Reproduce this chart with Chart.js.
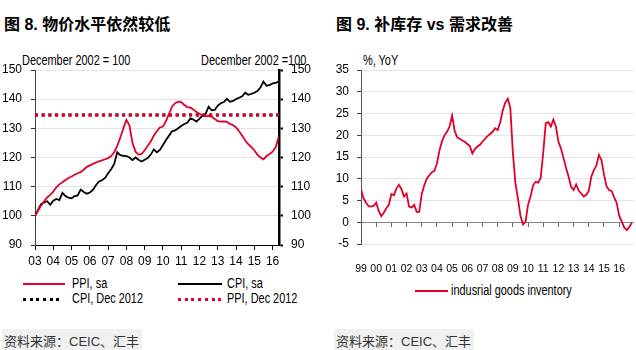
<!DOCTYPE html>
<html>
<head>
<meta charset="utf-8">
<script src="https://cdn.jsdelivr.net/npm/chart.js@4.4.1/dist/chart.umd.min.js"></script>
<style>
  body { margin: 0; width: 636px; height: 350px; background: #fff; position: relative; overflow: hidden;
         font-family: 'Liberation Sans', Arial, sans-serif; color: #000; }
  .t { position: absolute; white-space: nowrap; line-height: 1; }
  .narrow { transform: scaleX(0.78); transform-origin: 0 50%; font-size: 14px; }
  .title { font: bold 16px 'Liberation Sans', 'Noto Sans CJK SC', sans-serif; top: 11px; }
  .note { top: 53px; }
  .src { font: 13px 'Liberation Sans', 'Noto Sans CJK SC', sans-serif; color: #333; background: #f0f0f0; top: 329px; padding: 2px 3px 2px 2px; }
  .ln { position: absolute; height: 2px; }
  .dot { position: absolute; height: 3px; }
  .box { position: absolute; top: 0; width: 318px; height: 275px; }
</style>
</head>
<body>
<div class="t title" style="left:4px">图 8. 物价水平依然较低</div>
<div class="t title" style="left:336px">图 9. 补库存 vs 需求改善</div>

<div class="t note narrow" style="left:22px">December 2002 = 100</div>
<div class="t note narrow" style="left:201px">December 2002 =100</div>
<div class="t note narrow" style="left:363px">%, YoY</div>

<div class="box" style="left:0"><canvas id="left"></canvas></div>
<div class="box" style="left:318px"><canvas id="right"></canvas></div>

<div id="legendLeft"></div>
<div id="legendRight"></div>

<div class="t src" style="left:2px">资料来源：CEIC、汇丰</div>
<div class="t src" style="left:334px">资料来源：CEIC、汇丰</div>

<script>
const RED = '#e2002b';
const FAMILY = "'Liberation Sans', Arial, sans-serif";
const TICK_FONT = { family: FAMILY, size: 12 };
const SMALL_FONT = { family: FAMILY, size: 10.5 };

// fig 8: price index, Dec 2002 = 100, every two months from Jan 2003
const ppi = [
  100, 101.8, 103.5, 105, 106.3, 107.2,
  108.3, 109.8, 110.8, 111.5, 112.3, 113.0,
  113.5, 114.1, 114.6, 115.0, 115.8, 116.8,
  117.3, 117.8, 118.3, 118.7, 119.0, 119.4,
  119.8, 120.5, 121.8, 124.0, 126.8, 130.0,
  132.9, 131.0, 125.0, 122.0, 121.0, 121.2,
  122.5, 124.0, 125.5, 127.5, 129.0, 130.3,
  130.6, 132.5, 135.0, 137.5, 138.6, 139.1,
  139.0, 138.0, 137.3, 137.1, 136.5, 135.6,
  135.0, 134.4, 134.2, 134.3, 134.0, 133.2,
  132.5, 132.3, 132.4, 132.2, 131.5, 131.1,
  130.3, 129.0, 127.5, 125.8, 124.6, 123.6,
  122.5, 121.0, 120.0, 119.4, 120.5, 121.2,
  122.0, 123.5, 127.1
];
const cpi = [
  100, 102.0, 104.0, 104.6, 105.0, 103.8,
  105.2, 105.8, 105.4, 107.9, 106.8, 106.2,
  106.0, 106.8, 107.0, 109.0, 108.2, 107.6,
  108.0, 108.9, 110.5, 111.8, 112.2, 113.0,
  114.6, 116.0, 117.8, 121.8, 120.8, 120.6,
  120.5, 120.0, 119.1, 120.0, 119.2, 118.6,
  119.2, 119.8, 121.0, 122.8, 121.8, 122.6,
  124.3, 126.0, 127.5, 129.0, 129.3, 130.0,
  130.8, 131.5, 131.9, 133.4, 133.0, 132.3,
  133.3, 134.4, 135.0, 137.4, 136.2, 136.3,
  137.8, 138.6, 139.0, 140.1, 139.1, 139.4,
  140.0, 140.5, 141.0, 142.2, 141.5, 141.8,
  142.2, 142.8, 144.0, 146.0, 144.6, 144.8,
  145.4, 145.6, 146.0
];
const cpiDec2012 = 134.6;
const ppiDec2012 = 134.6;
const leftDates = ppi.map((_, i) => 2003 + i / 6);
const leftRange = [2003, 2016.35];

// fig 9: industrial goods inventory, % yoy, every two months from Jan 1999
const inventory = [
  7.6, 5.5, 4.5, 3.7, 3.6, 3.8,
  4.5, 2.6, 1.4, 2.2, 3.2, 4.0,
  6.5, 6.2, 7.8, 8.6, 7.6, 5.9,
  6.6, 3.6, 3.4, 4.0, 2.4, 2.4,
  6.5, 8.5, 10.0, 10.8, 11.5, 11.8,
  13.5, 16.5, 18.6, 20.0, 20.8, 22.0,
  24.5, 21.0, 19.5, 19.2, 18.8, 18.5,
  18.0, 17.5, 15.8, 16.8, 17.4, 17.8,
  18.5, 19.2, 19.8, 20.3, 20.8, 21.6,
  21.2, 23.0, 25.7, 27.5, 28.4, 26.3,
  16.0, 9.0, 5.5, 1.5, -0.5, 0.1,
  4.0, 6.0, 8.5, 9.3, 9.1, 10.2,
  16.0, 22.8, 23.0, 22.0, 23.6, 22.0,
  18.5, 17.0, 14.8, 12.5, 10.5, 8.2,
  7.4, 8.7, 7.3, 6.6, 5.9, 6.3,
  7.2, 10.5, 12.0, 13.0, 15.5, 14.3,
  11.0, 8.3, 7.4, 7.2, 5.8, 4.5,
  1.5, 0.2, -1.2, -1.8, -1.1, -0.1
];
const rightDates = inventory.map((_, i) => 1999 + i / 6);
const rightRange = [1999, 2016.95];

const yearLabel = v => String(Math.round(v) % 100).padStart(2, '0');
const pts = (xs, ys) => xs.map((x, i) => ({ x: x, y: ys[i] }));
const flat = (range, v) => range.map(x => ({ x: x, y: v }));

new Chart(document.getElementById('left'), {
  type: 'line',
  data: {
    datasets: [
      { label: 'PPI, Dec 2012', data: flat(leftRange, ppiDec2012), borderColor: RED, borderWidth: 3, borderDash: [3, 3.7], borderCapStyle: 'butt' },
      { label: 'CPI, Dec 2012', data: flat(leftRange, cpiDec2012), borderColor: '#000', borderWidth: 3, borderDash: [3, 3.7], borderCapStyle: 'butt' },
      { label: 'PPI, sa', data: pts(leftDates, ppi), borderColor: RED, borderWidth: 1.8 },
      { label: 'CPI, sa', data: pts(leftDates, cpi), borderColor: '#000', borderWidth: 1.8 }
    ]
  },
  options: {
    responsive: true,
    maintainAspectRatio: false,
    animation: false,
    elements: { point: { radius: 0 }, line: { tension: 0 } },
    layout: { padding: { top: 70, left: 0, right: 0, bottom: 0 } },
    plugins: { legend: { display: false }, tooltip: { enabled: false } },
    scales: {
      x: {
        type: 'linear', min: leftRange[0], max: leftRange[1],
        afterFit: s => { s.height = 30; },
        ticks: { stepSize: 1, includeBounds: false, autoSkip: false, maxRotation: 0, callback: yearLabel, font: TICK_FONT, color: '#000', padding: 4 },
        grid: { drawOnChartArea: false, tickLength: 5, tickColor: '#000' },
        border: { color: '#000', width: 1 }
      },
      y: {
        position: 'left', min: 90, max: 150,
        afterFit: s => { s.width = 35; },
        ticks: { stepSize: 10, font: TICK_FONT, color: '#000', padding: 9 },
        grid: { color: '#e4e4e4', tickLength: 4, tickColor: '#333' },
        border: { color: '#444', width: 1 }
      },
      y2: {
        position: 'right', min: 90, max: 150,
        afterFit: s => { s.width = 39; },
        ticks: { stepSize: 10, font: TICK_FONT, color: '#000', padding: 8 },
        grid: { drawOnChartArea: false, tickLength: 4, tickColor: '#000', tickWidth: 2 },
        border: { color: '#000', width: 2.5 }
      }
    }
  }
});

new Chart(document.getElementById('right'), {
  type: 'line',
  data: {
    datasets: [
      { label: 'indusrial goods inventory', data: pts(rightDates, inventory), borderColor: RED, borderWidth: 1.8 }
    ]
  },
  options: {
    responsive: true,
    maintainAspectRatio: false,
    animation: false,
    elements: { point: { radius: 0 }, line: { tension: 0 } },
    layout: { padding: { top: 70, left: 0, right: 0, bottom: 0 } },
    plugins: { legend: { display: false }, tooltip: { enabled: false } },
    scales: {
      x: {
        type: 'linear', min: rightRange[0], max: rightRange[1],
        afterFit: s => { s.height = 31; },
        ticks: { stepSize: 1, includeBounds: false, autoSkip: false, maxRotation: 0, callback: yearLabel, font: SMALL_FONT, color: '#000', padding: 11 },
        grid: { display: false },
        border: { display: false }
      },
      x0: {
        type: 'linear', min: rightRange[0], max: rightRange[1], position: { y: 0 },
        ticks: { display: false, stepSize: 1, includeBounds: false, autoSkip: false },
        grid: { drawOnChartArea: false, tickLength: 4, tickColor: '#666' },
        border: { color: '#888', width: 1 }
      },
      y: {
        position: 'left', min: -5, max: 35,
        afterFit: s => { s.width = 43; },
        ticks: { stepSize: 5, font: TICK_FONT, color: '#000', padding: 8 },
        grid: { color: c => (c.tick && c.tick.value === 0 ? 'rgba(0,0,0,0)' : '#e4e4e4'), tickLength: 4, tickColor: '#444' },
        border: { color: '#555', width: 1 }
      }
    }
  }
});

// legends
const dotted = c => 'repeating-linear-gradient(90deg,' + c + ' 0 3px, transparent 3px 6.7px)';
const legendLeft = [
  { text: 'PPI, sa', x: 23, w: 42, y: 284, tx: 72, style: 'background:' + RED },
  { text: 'CPI, sa', x: 178, w: 44, y: 284, tx: 227, style: 'background:#000' },
  { text: 'CPI, Dec 2012', x: 23, w: 40, y: 299, tx: 72, style: 'background:' + dotted('#000'), dot: true },
  { text: 'PPI, Dec 2012', x: 178, w: 44, y: 299, tx: 227, style: 'background:' + dotted(RED), dot: true }
];
const legendRight = [
  { text: 'indusrial goods inventory', x: 415, w: 33, y: 291, tx: 451, style: 'background:' + RED }
];
function drawLegend(id, items) {
  const el = document.getElementById(id);
  items.forEach(it => {
    const line = document.createElement('div');
    line.className = it.dot ? 'dot' : 'ln';
    line.style.cssText += ';left:' + it.x + 'px;width:' + it.w + 'px;top:' + (it.y - (it.dot ? 1.5 : 1)) + 'px;' + it.style;
    el.appendChild(line);
    const t = document.createElement('div');
    t.className = 't narrow';
    t.textContent = it.text;
    t.style.left = it.tx + 'px';
    t.style.top = (it.y - 8) + 'px';
    el.appendChild(t);
  });
}
drawLegend('legendLeft', legendLeft);
drawLegend('legendRight', legendRight);
</script>
</body>
</html>
